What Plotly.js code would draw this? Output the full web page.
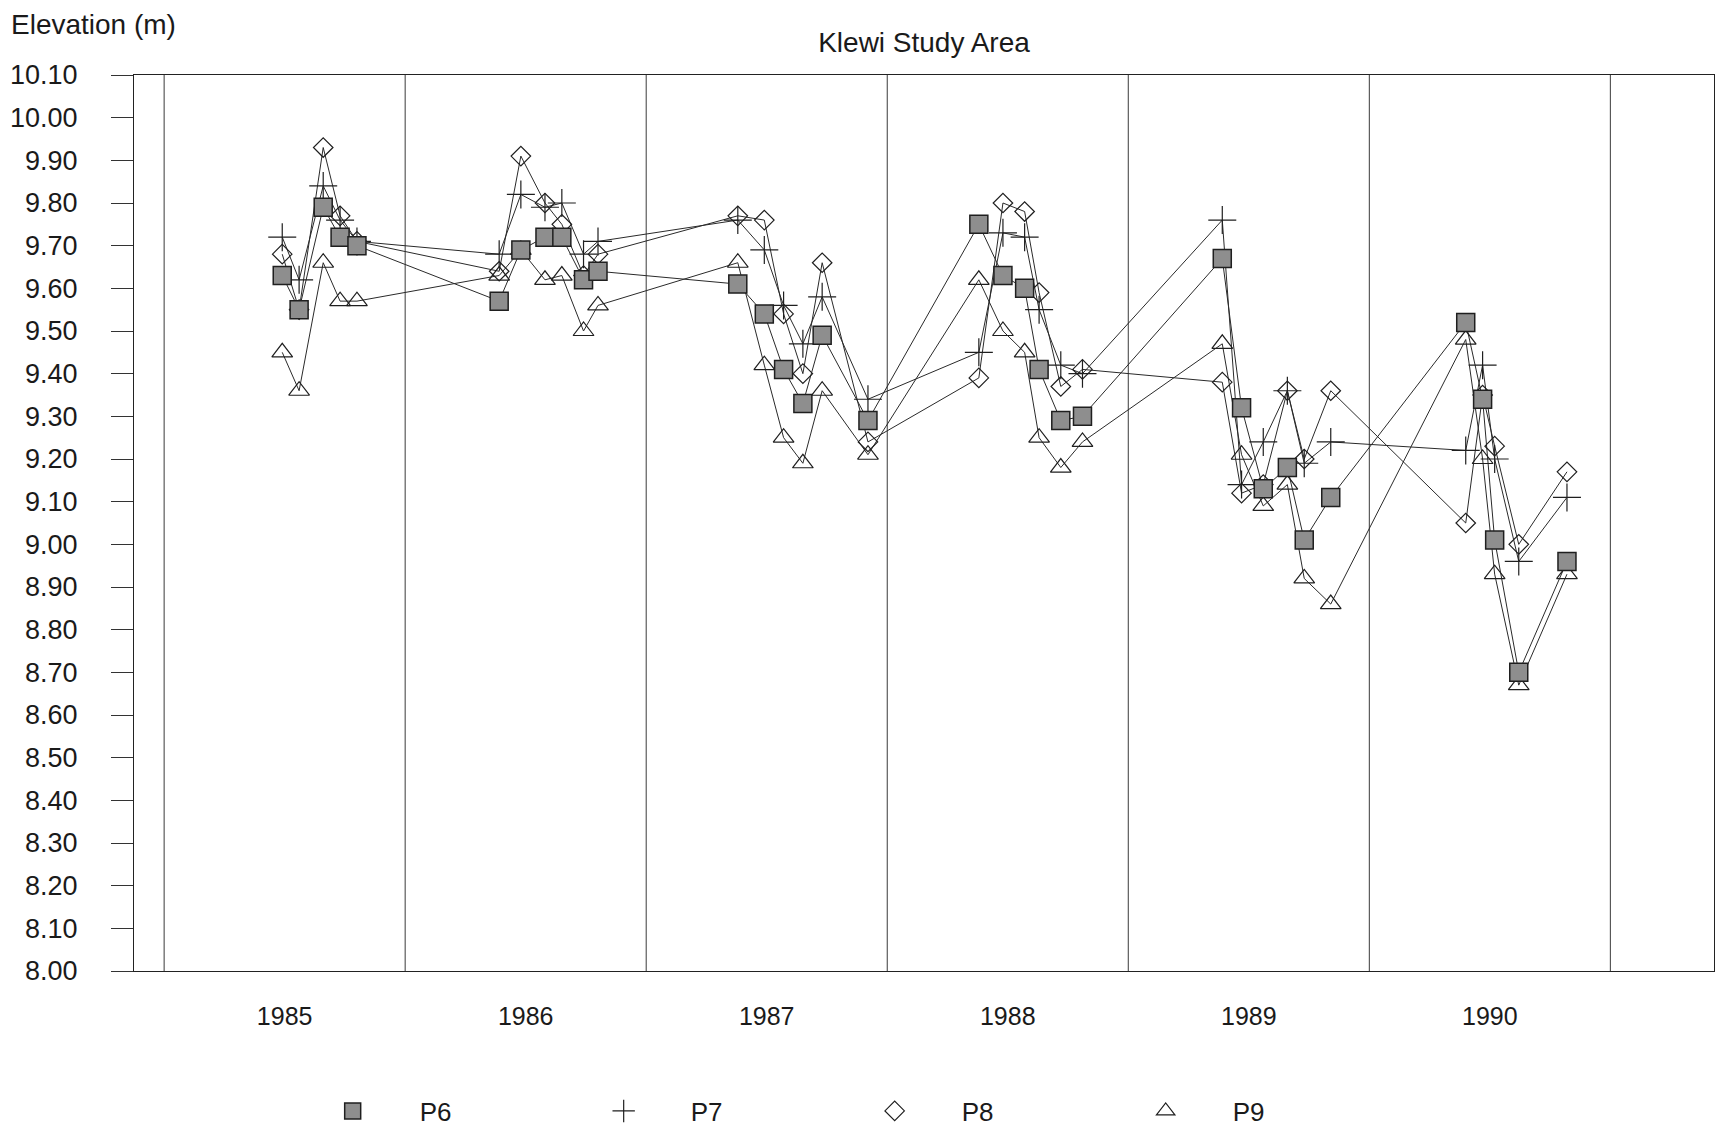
<!DOCTYPE html>
<html>
<head>
<meta charset="utf-8">
<script src="https://cdn.plot.ly/plotly-3.0.1.min.js"></script>
<style>
  html, body { margin: 0; padding: 0; background: #ffffff; }
  #chart { width: 1719px; height: 1138px; }
</style>
</head>
<body>
<div id="chart"></div>
<script>
// Sampling dates (decimal years)
const dates = [
  1985.49, 1985.56, 1985.66, 1985.73, 1985.80,
  1986.39, 1986.48, 1986.58, 1986.65, 1986.74, 1986.80,
  1987.38, 1987.49, 1987.57, 1987.65, 1987.73, 1987.92,
  1988.38, 1988.48, 1988.57, 1988.63, 1988.72, 1988.81,
  1989.39, 1989.47, 1989.56, 1989.66, 1989.73, 1989.84,
  1990.40, 1990.47, 1990.52, 1990.62, 1990.82
];

// Elevation (m) per piezometer
const p6 = [
  9.63, 9.55, 9.79, 9.72, 9.70,
  9.57, 9.69, 9.72, 9.72, 9.62, 9.64,
  9.61, 9.54, 9.41, 9.33, 9.49, 9.29,
  9.75, 9.63, 9.60, 9.41, 9.29, 9.30,
  9.67, 9.32, 9.13, 9.18, 9.01, 9.11,
  9.52, 9.34, 9.01, 8.70, 8.96
];
const p7 = [
  9.72, 9.62, 9.84, 9.76, 9.71,
  9.68, 9.82, 9.79, 9.80, 9.68, 9.71,
  9.76, 9.69, 9.56, 9.47, 9.58, 9.34,
  9.45, 9.73, 9.72, 9.55, 9.42, 9.40,
  9.76, 9.14, 9.24, 9.36, 9.19, 9.24,
  9.22, 9.42, 9.20, 8.96, 9.11
];
const p8 = [
  9.68, 9.55, 9.93, 9.77, 9.71,
  9.64, 9.91, 9.80, 9.75, 9.63, 9.68,
  9.77, 9.76, 9.54, 9.40, 9.66, 9.24,
  9.39, 9.80, 9.78, 9.59, 9.37, 9.41,
  9.38, 9.12, 9.14, 9.36, 9.20, 9.36,
  9.05, 9.35, 9.23, 9.00, 9.17
];
const p9 = [
  9.45, 9.36, 9.66, 9.57, 9.57,
  9.63, 9.69, 9.62, 9.63, 9.50, 9.56,
  9.66, 9.42, 9.25, 9.19, 9.36, 9.21,
  9.62, 9.50, 9.45, 9.25, 9.18, 9.24,
  9.47, 9.21, 9.09, 9.14, 8.92, 8.86,
  9.48, 9.20, 8.93, 8.67, 8.93
];

const seriesNames = ['P6', 'P7', 'P8', 'P9'];
const yearLabels = ['1985', '1986', '1987', '1988', '1989', '1990'];
const yearBoundaries = [1985, 1986, 1987, 1988, 1989, 1990, 1991];
const yTicks = [8.0, 8.1, 8.2, 8.3, 8.4, 8.5, 8.6, 8.7, 8.8, 8.9, 9.0,
                9.1, 9.2, 9.3, 9.4, 9.5, 9.6, 9.7, 9.8, 9.9, 10.0, 10.1];

const FONT = '"Liberation Sans", Arial, Helvetica, sans-serif';
const INK = '#1a1a1a';

const markerStyles = {
  P6: { symbol: 'square', size: 18, color: '#8e8e8e', line: { color: '#1f1f1f', width: 1.5 } },
  P7: { symbol: 'cross-thin', size: 20, color: '#1f1f1f', line: { color: '#1f1f1f', width: 1.2 } },
  P8: { symbol: 'diamond-open', size: 15, color: '#1f1f1f', line: { color: '#1f1f1f', width: 1.2 } },
  P9: { symbol: 'triangle-up-open', size: 18, color: '#1f1f1f', line: { color: '#1f1f1f', width: 1.2 } }
};

const values = { P6: p6, P7: p7, P8: p8, P9: p9 };

const traces = [];
// connecting lines (no legend)
seriesNames.forEach(name => {
  traces.push({
    type: 'scatter', mode: 'lines', x: dates, y: values[name],
    line: { color: '#2a2a2a', width: 1 },
    showlegend: false, hoverinfo: 'skip', legendgroup: name
  });
});
// markers (legend entries); P6 drawn last so squares sit on top
['P9', 'P8', 'P7', 'P6'].forEach(name => {
  traces.push({
    type: 'scatter', mode: 'markers', x: dates, y: values[name],
    name: name, legendgroup: name,
    marker: markerStyles[name],
    legendrank: seriesNames.indexOf(name) + 1
  });
});

const shapes = yearBoundaries.map(yr => ({
  type: 'line', xref: 'x', yref: 'paper', x0: yr, x1: yr, y0: 0, y1: 1,
  line: { color: '#3a3a3a', width: 1 }, layer: 'below'
}));

const layout = {
  width: 1719, height: 1138,
  margin: { l: 134, r: 5, t: 75, b: 166 },
  paper_bgcolor: '#ffffff', plot_bgcolor: '#ffffff',
  font: { family: FONT, color: INK, size: 24 },
  title: {
    text: 'Klewi Study Area',
    font: { family: FONT, size: 28, color: INK },
    x: 0.5, xref: 'paper', xanchor: 'center',
    y: 1 - 42 / 1138, yref: 'container', yanchor: 'middle'
  },
  xaxis: {
    range: [1984.875, 1991.43],
    tickmode: 'array',
    tickvals: yearLabels.map(y => Number(y) + 0.5),
    ticktext: yearLabels,
    ticks: '', showgrid: false, zeroline: false,
    showline: true, linecolor: '#222', linewidth: 1, mirror: true,
    tickfont: { family: FONT, size: 25, color: INK },
    ticklabelstandoff: 23
  },
  yaxis: {
    range: [8.0, 10.1],
    tickmode: 'array',
    tickvals: yTicks,
    ticktext: yTicks.map(v => v.toFixed(2)),
    ticks: 'outside', ticklen: 22, tickcolor: '#333', tickwidth: 1,
    showgrid: false, zeroline: false,
    showline: true, linecolor: '#222', linewidth: 1, mirror: true,
    tickfont: { family: FONT, size: 27, color: INK },
    ticklabelstandoff: 28
  },
  shapes: shapes,
  annotations: [{
    text: 'Elevation (m)', showarrow: false,
    xref: 'paper', yref: 'paper',
    x: (9 - 134) / 1580, xanchor: 'left',
    y: (972 - 24) / 897, yanchor: 'middle',
    font: { family: FONT, size: 28, color: INK }
  }],
  legend: {
    orientation: 'h',
    x: 0.096, xanchor: 'left',
    y: -0.155, yanchor: 'middle',
    itemwidth: 124,
    entrywidth: 132, entrywidthmode: 'pixels',
    font: { family: FONT, size: 26, color: INK },
    traceorder: 'normal',
    bgcolor: 'rgba(0,0,0,0)'
  },
  showlegend: true
};

Plotly.newPlot('chart', traces, layout, { displayModeBar: false, staticPlot: true });
</script>
</body>
</html>
